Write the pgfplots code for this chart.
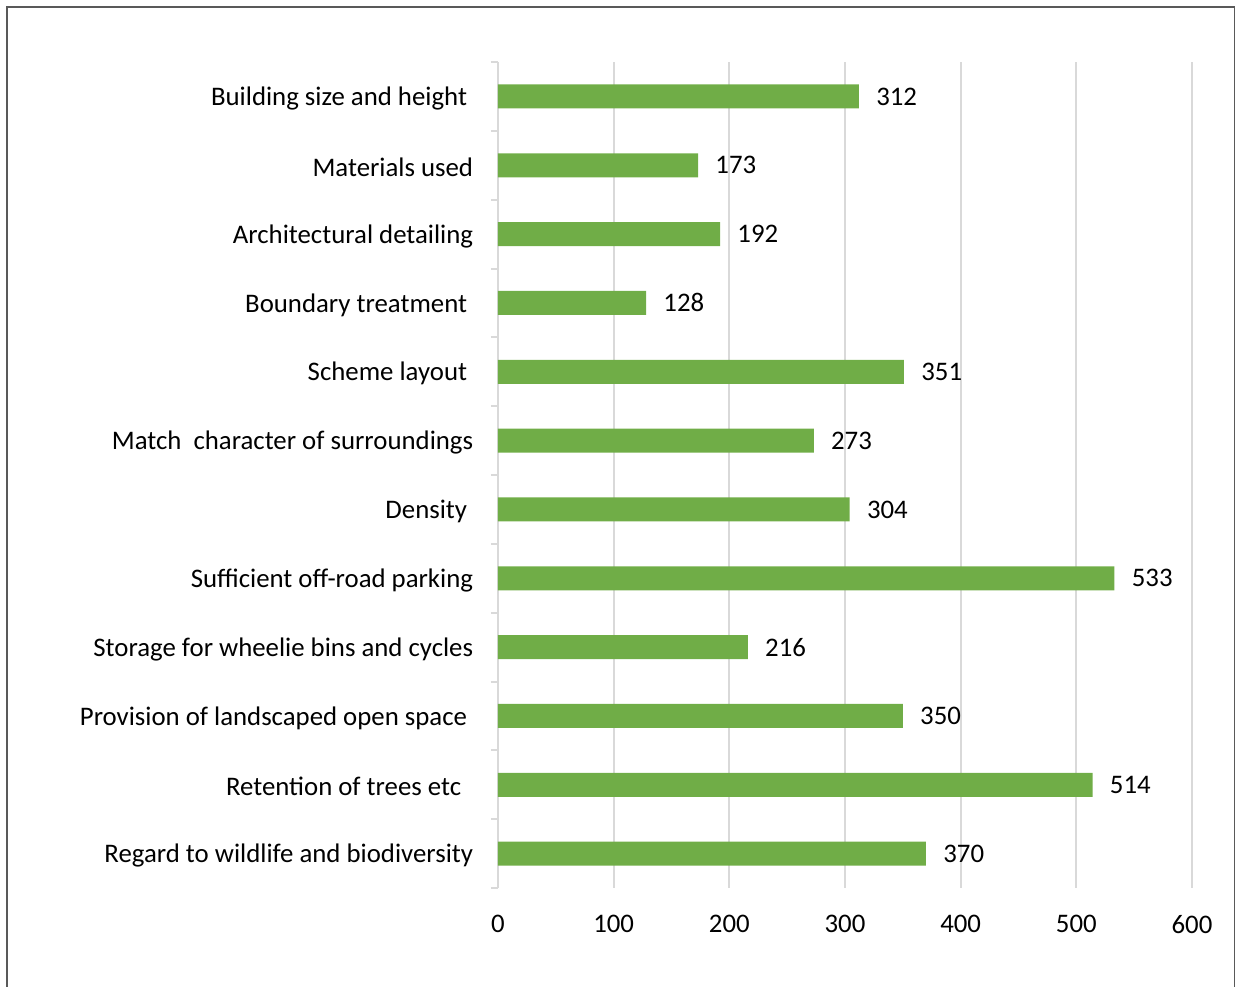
\documentclass[border=0pt]{standalone}
\usepackage{pgfplots}
\pgfplotsset{compat=1.18}
\usepackage{fontspec}
\setmainfont{Carlito}
\definecolor{bargreen}{HTML}{70AD47}
\definecolor{gridgray}{HTML}{D9D9D9}
\definecolor{framegray}{HTML}{595959}
\begin{document}
\begin{tikzpicture}
\useasboundingbox (-249bp,-49.5bp) rectangle (369bp,444bp);
\draw[framegray, line width=0.75bp] (-245.5bp,-60bp) rectangle (368.3bp,440.5bp);
\begin{axis}[
  at={(0,0)}, anchor=south west,
  scale only axis,
  width=347bp, height=413bp,
  xbar, bar width=12bp,
  xmin=0, xmax=600,
  ymin=-0.5, ymax=11.5,
  y dir=reverse,
  xtick={0,100,...,600},
  ytick={0,...,11},
  yticklabels={
    {Building size and height\hspace*{3bp}},
    {Materials used},
    {Architectural detailing},
    {Boundary treatment\hspace*{3bp}},
    {Scheme layout\hspace*{3bp}},
    {Match\ \ character of surroundings},
    {Density\hspace*{3bp}},
    {Sufficient off-road parking},
    {Storage for wheelie bins and cycles},
    {Provision of landscaped open space\hspace*{3bp}},
    {Retention of trees etc\hspace*{6bp}},
    {Regard to wildlife and biodiversity}},
  minor ytick={-0.5,0.5,...,11.5},
  axis lines*=left,
  x axis line style={draw=none},
  y axis line style={draw=gridgray, line width=1bp},
  xmajorgrids,
  major grid style={draw=gridgray, line width=1bp},
  major x tick style={draw=none},
  major y tick style={draw=none},
  minor y tick style={draw=gridgray, line width=1bp},
  minor tick length=3.5bp,
  tick align=outside,
  /pgf/number format/assume math mode=true,
  tick label style={font=\fontsize{13.4bp}{16bp}\selectfont, text=black},
  yticklabel style={inner sep=0pt, anchor=east, xshift=-8bp, yshift=-1bp},
  xticklabel style={inner sep=0pt, anchor=north, yshift=-9bp},
  nodes near coords,
  every node near coord/.style={anchor=west, inner sep=0pt, xshift=8.5bp, font=\fontsize{13.4bp}{16bp}\selectfont, text=black},
  clip=false,
]
\addplot[fill=bargreen, draw=none] coordinates {
  (312,0) (173,1) (192,2) (128,3) (351,4) (273,5)
  (304,6) (533,7) (216,8) (350,9) (514,10) (370,11)
};
\end{axis}
\end{tikzpicture}
\end{document}
